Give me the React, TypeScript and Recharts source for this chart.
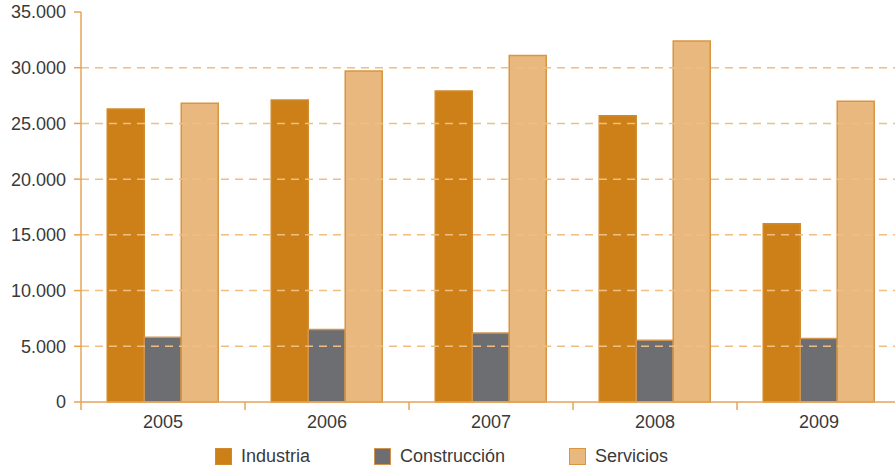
import { BarChart, Bar, XAxis, YAxis, ReferenceLine, Legend } from 'recharts';

const years = ['2005', '2006', '2007', '2008', '2009'];
const industria = [26300, 27100, 27900, 25700, 16000];
const construccion = [5800, 6500, 6200, 5550, 5700];
const servicios = [26800, 29700, 31100, 32400, 27000];
const yTicks = [0, 5000, 10000, 15000, 20000, 25000, 30000, 35000];
const gridValues = [5000, 10000, 15000, 20000, 25000, 30000];

const data = years.map((year, i) => ({
    year,
    Industria: industria[i],
    Construcción: construccion[i],
    Servicios: servicios[i],
}));

const series = [
    { key: 'Industria', fill: '#CD8017', stroke: '#D08A2E' },
    { key: 'Construcción', fill: '#6D6E71', stroke: '#CF9550' },
    { key: 'Servicios', fill: '#E8B87F', stroke: '#D9963F' },
];

const FONT = '"Liberation Sans", Arial, sans-serif';
const TEXT = '#3a3a3a';
const AXIS = '#E4A458';
const FS = 18;

const fmt = (v: number) => v.toString().replace(/\B(?=(\d{3})+(?!\d))/g, '.');

function YearTick(props: any) {
    const { x, y, payload } = props;
    const half = payload && payload.offset ? payload.offset : 82;
    return (
        <g>
            <line x1={x - half} x2={x - half} y1={y} y2={y + 8} stroke={AXIS} strokeWidth={1.5} />
            <text x={x} y={y + 20} textAnchor="middle" dominantBaseline="central" fill={TEXT} fontSize={FS} fontFamily={FONT}>
                {payload.value}
            </text>
        </g>
    );
}

function LegendBox() {
    return (
        <div style={{ display: 'flex', justifyContent: 'center', alignItems: 'center', height: 28, paddingTop: 4, paddingRight: 18, fontFamily: FONT, fontSize: FS, color: TEXT }}>
            {series.map((s) => (
                <div key={s.key} style={{ display: 'flex', alignItems: 'center', margin: '0 32px' }}>
                    <span style={{ display: 'inline-block', width: 15, height: 15, background: s.fill, border: `1px solid ${s.stroke}`, marginRight: 9 }} />
                    <span>{s.key}</span>
                </div>
            ))}
        </div>
    );
}

export default function App() {
    return (
        <div style={{ position: 'absolute', left: 0, top: 0 }}>
            <BarChart width={895} height={466} data={data} margin={{ top: 12, right: -6, left: 0, bottom: 0 }} barCategoryGap="16%" barGap={0}>
                {gridValues.map((v) => (
                    <ReferenceLine key={v} y={v} stroke="#F0BE82" strokeWidth={1.5} strokeDasharray="8 6" />
                ))}
                <XAxis dataKey="year" height={36} stroke={AXIS} strokeWidth={1.5} tickSize={0} tickMargin={0} tick={<YearTick />} interval={0} />
                <YAxis
                    width={81}
                    domain={[0, 35000]}
                    ticks={yTicks}
                    tickFormatter={fmt}
                    stroke={AXIS}
                    strokeWidth={1.5}
                    tickSize={7}
                    tickMargin={8}
                    tick={{ fill: TEXT, fontSize: FS, fontFamily: FONT }}
                />
                <Legend verticalAlign="bottom" height={28} content={<LegendBox />} />
                {series.map((s) => (
                    <Bar key={s.key} dataKey={s.key} fill={s.fill} stroke={s.stroke} strokeWidth={1.5} isAnimationActive={false} />
                ))}
            </BarChart>
        </div>
    );
}
